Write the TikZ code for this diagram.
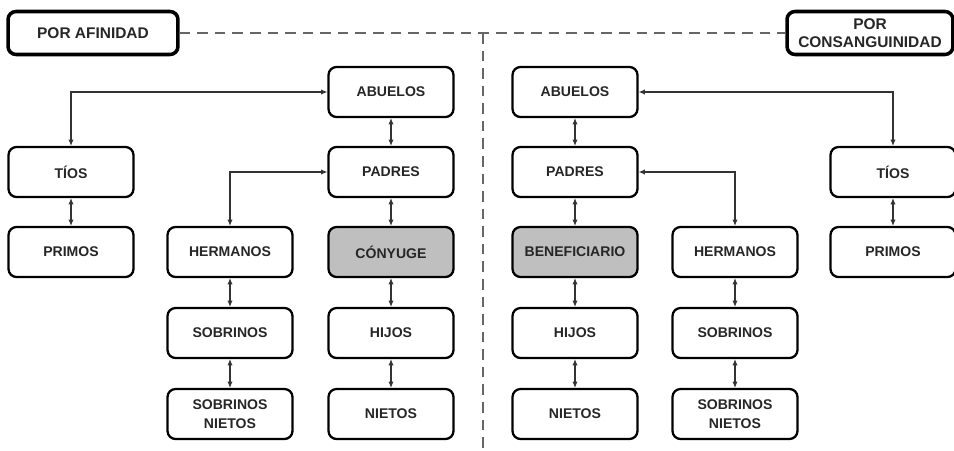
\documentclass[tikz,border=0pt]{standalone}
\usepackage{fontspec}
\setmainfont{Liberation Sans}
\usetikzlibrary{arrows.meta}
\tikzset{box/.style = {draw, line width=1.3pt, rounded corners=0.16cm, minimum width=2.5cm, minimum height=1cm,
                       inner sep=1pt, align=center, font=\fontsize{8}{11}\selectfont\bfseries, text=black!85}}
\tikzset{head/.style = {box, line width=2pt, minimum height=0.86cm, font=\fontsize{8.8}{10}\selectfont\bfseries}}
\tikzset{self/.style = {box, fill=gray!50}}
\tikzset{link/.style = {{Latex[length=3.5pt,width=3pt]}-{Latex[length=3.5pt,width=3pt]}, line width=0.6pt, black!80}}
\tikzset{sep/.style = {dashed, dash pattern=on 6pt off 4pt, line width=0.9pt, black!60}}

\begin{document}
\begin{tikzpicture}[x=0.02cm, y=-0.02cm]
\useasboundingbox (0,0) rectangle (954,450);
% headers
\node[head, minimum width=3.4cm] (afin) at (93,33) {POR AFINIDAD};
\node[head, minimum width=3.32cm] (consang) at (870,33) {POR\\CONSANGUINIDAD};
\coordinate (mid) at (483,33);
\coordinate (bot) at (483,450);
\draw[sep] (afin.east) -- (mid) -- (consang.west);
\draw[sep] (mid) -- (bot);
% por afinidad
\node[box] (abueloA) at (391,92) {ABUELOS};
\node[box] (padresA) at (391,172) {PADRES};
\node[self] (conyuge) at (391,252) {CÓNYUGE};
\node[box] (hijosA) at (391,333) {HIJOS};
\node[box] (nietosA) at (391,414) {NIETOS};
\node[box] (tiosA) at (71,172) {TÍOS};
\node[box] (primosA) at (71,252) {PRIMOS};
\node[box] (hermanosA) at (230,252) {HERMANOS};
\node[box] (sobrinosA) at (230,333) {SOBRINOS};
\node[box] (sobnietosA) at (230,414) {SOBRINOS\\NIETOS};
\draw[link] (tiosA.north) |- (abueloA.west);
\draw[link] (hermanosA.north) |- (padresA.west);
\draw[link] (abueloA) -- (padresA);
\draw[link] (padresA) -- (conyuge);
\draw[link] (conyuge) -- (hijosA);
\draw[link] (hijosA) -- (nietosA);
\draw[link] (tiosA) -- (primosA);
\draw[link] (hermanosA) -- (sobrinosA);
\draw[link] (sobrinosA) -- (sobnietosA);
% por consanguinidad
\node[box] (abueloC) at (575,92) {ABUELOS};
\node[box] (padresC) at (575,172) {PADRES};
\node[self] (benef) at (575,252) {BENEFICIARIO};
\node[box] (hijosC) at (575,333) {HIJOS};
\node[box] (nietosC) at (575,414) {NIETOS};
\node[box] (hermanosC) at (735,252) {HERMANOS};
\node[box] (sobrinosC) at (735,333) {SOBRINOS};
\node[box] (sobnietosC) at (735,414) {SOBRINOS\\NIETOS};
\node[box] (tiosC) at (893,172) {TÍOS};
\node[box] (primosC) at (893,252) {PRIMOS};
\draw[link] (abueloC.east) -| (tiosC.north);
\draw[link] (padresC.east) -| (hermanosC.north);
\draw[link] (abueloC) -- (padresC);
\draw[link] (padresC) -- (benef);
\draw[link] (benef) -- (hijosC);
\draw[link] (hijosC) -- (nietosC);
\draw[link] (hermanosC) -- (sobrinosC);
\draw[link] (sobrinosC) -- (sobnietosC);
\draw[link] (tiosC) -- (primosC);
\end{tikzpicture}
\end{document}
